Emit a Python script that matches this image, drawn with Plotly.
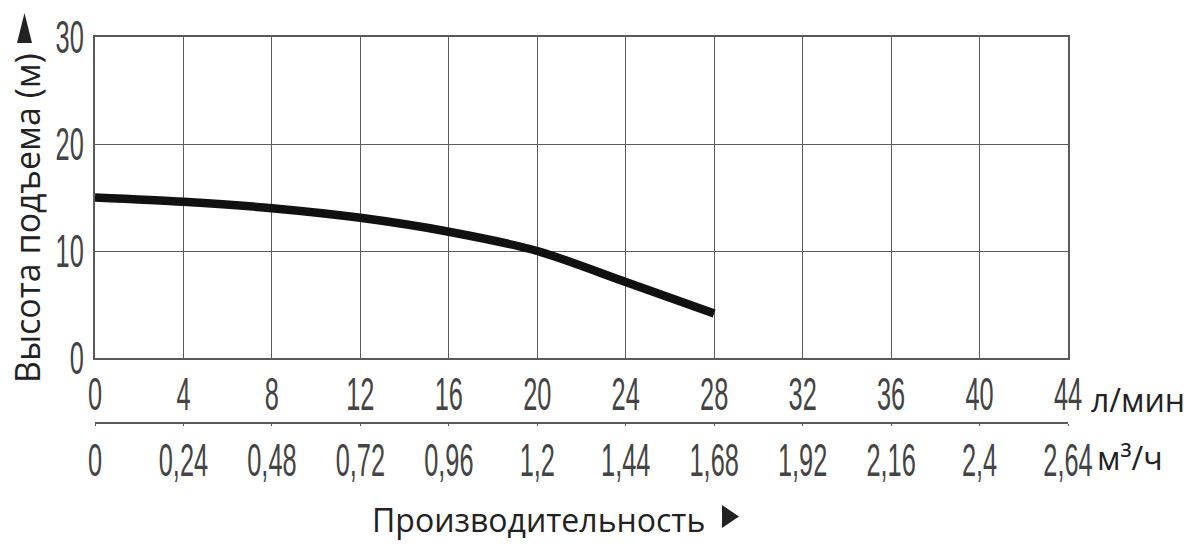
import plotly.graph_objects as go

flow_lpm = [0, 4, 8, 12, 16, 20, 24, 28]
head_m = [15.0, 14.6, 14.0, 13.1, 11.8, 10.0, 7.1, 4.15]

x_ticks_lpm = [0, 4, 8, 12, 16, 20, 24, 28, 32, 36, 40, 44]
x_ticks_m3h = [0, 0.24, 0.48, 0.72, 0.96, 1.2, 1.44, 1.68, 1.92, 2.16, 2.4, 2.64]
x_ticktext_m3h = ["0", "0,24", "0,48", "0,72", "0,96", "1,2", "1,44", "1,68", "1,92", "2,16", "2,4", "2,64"]
y_ticks = [0, 10, 20, 30]

W, H = 1193, 549
ML, MR, MT, MB = 95, 125, 37, 126
plot_w = W - ML - MR
plot_h = H - MT - MB
y_bottom_px = 358
y_dom0 = (H - MB - y_bottom_px) / plot_h

cond_font = dict(family="Liberation Sans, Arial, sans-serif", size=47, color="#444444")
text_font = dict(family="Open Sans, Noto Sans, sans-serif", size=32, color="#222222")
grid_c = "#5a5a5a"


def px2paper(px, py):
    return (px - ML) / plot_w, (H - MB - py) / plot_h


fig = go.Figure()
fig.add_trace(go.Scatter(x=flow_lpm, y=head_m, mode="lines",
                         line=dict(color="#111111", width=8.5, shape="spline", smoothing=0.8),
                         hoverinfo="skip", showlegend=False))
fig.add_trace(go.Scatter(x=x_ticks_m3h, y=[None] * len(x_ticks_m3h), xaxis="x2", yaxis="y",
                         mode="markers", marker=dict(opacity=0), hoverinfo="skip", showlegend=False))

fig.update_layout(
    width=W, height=H,
    margin=dict(l=ML, r=MR, t=MT, b=MB, pad=0),
    paper_bgcolor="white", plot_bgcolor="white",
    xaxis=dict(range=[0, 44], tickvals=x_ticks_lpm, ticktext=[str(v) for v in x_ticks_lpm],
               showgrid=True, gridcolor=grid_c, gridwidth=1.2,
               showline=True, linecolor=grid_c, linewidth=1.5, mirror=True,
               ticks="", tickfont=cond_font, ticklabelstandoff=0, tickangle=0,
               zeroline=False, anchor="y", domain=[0, 1], fixedrange=True, automargin=False),
    xaxis2=dict(range=[0, 2.64], tickvals=x_ticks_m3h, ticktext=x_ticktext_m3h,
                overlaying="x", anchor="free", position=0, side="bottom",
                showgrid=False, showline=True, linecolor=grid_c, linewidth=1.5,
                ticks="outside", ticklen=2, tickcolor=grid_c, tickfont=cond_font,
                ticklabelstandoff=0, tickangle=0, zeroline=False, fixedrange=True, automargin=False),
    yaxis=dict(range=[0, 30], tickvals=y_ticks, domain=[y_dom0, 1],
               showgrid=True, gridcolor=grid_c, gridwidth=1.2,
               showline=True, linecolor=grid_c, linewidth=1.5, mirror=True,
               ticks="", tickfont=cond_font, ticklabelstandoff=0,
               zeroline=False, fixedrange=True, automargin=False),
    showlegend=False,
)

# axis titles / unit labels
tx, ty = px2paper(27, 218)
fig.add_annotation(text="Высота подъема (м)", xref="paper", yref="paper", x=tx, y=ty,
                   xanchor="center", yanchor="middle", textangle=-90, showarrow=False,
                   font=dict(family=text_font["family"], size=34, color="#222222"))
tx, ty = px2paper(370, 519)
fig.add_annotation(text="Производительность", xref="paper", yref="paper", x=tx, y=ty,
                   xanchor="left", yanchor="middle", showarrow=False, font=text_font)
tx, ty = px2paper(1089, 399)
fig.add_annotation(text="л/мин", xref="paper", yref="paper", x=tx, y=ty,
                   xanchor="left", yanchor="middle", showarrow=False, font=text_font)
tx, ty = px2paper(1095, 457)
fig.add_annotation(text="м³/ч", xref="paper", yref="paper", x=tx, y=ty,
                   xanchor="left", yanchor="middle", showarrow=False, font=text_font)

# triangle arrows
ax1, ay1 = px2paper(17, 43)
ax2, ay2 = px2paper(24.5, 13)
ax3, ay3 = px2paper(32, 43)
fig.add_shape(type="path", xref="paper", yref="paper",
              path=f"M {ax1} {ay1} L {ax2} {ay2} L {ax3} {ay3} Z",
              fillcolor="#222222", line=dict(width=0))
bx1, by1 = px2paper(722, 505)
bx2, by2 = px2paper(739, 516.5)
bx3, by3 = px2paper(722, 528)
fig.add_shape(type="path", xref="paper", yref="paper",
              path=f"M {bx1} {by1} L {bx2} {by2} L {bx3} {by3} Z",
              fillcolor="#222222", line=dict(width=0))

# page without body margin; narrow (condensed) look for the tick numbers, as in the original
post_js = """
document.body.style.margin = '0';
var gd = document.getElementById('{plot_id}');
function sq(t, s, dy){
  var cur = t.getAttribute('transform') || '';
  if (t.__sqDone === cur) return;
  var X = parseFloat(t.getAttribute('x') || 0), Y = parseFloat(t.getAttribute('y') || 0);
  var nt = cur + ' translate(0,' + dy + ') translate(' + X + ',' + Y + ') scale(' + s + ',1) translate(' + (-X) + ',' + (-Y) + ')';
  t.setAttribute('transform', nt);
  t.__sqDone = nt;
}
function squeeze(){
  gd.querySelectorAll('g.xtick text').forEach(function(t){ sq(t, 0.54, -6); });
  gd.querySelectorAll('g.x2tick text').forEach(function(t){ sq(t, 0.54, -6); });
  gd.querySelectorAll('g.ytick text').forEach(function(t){ sq(t, 0.54, 0); });
}
squeeze();
gd.on('plotly_afterplot', squeeze);
setTimeout(squeeze, 50);
"""

fig.write_html("out.html", post_script=post_js, config={"displayModeBar": False})
